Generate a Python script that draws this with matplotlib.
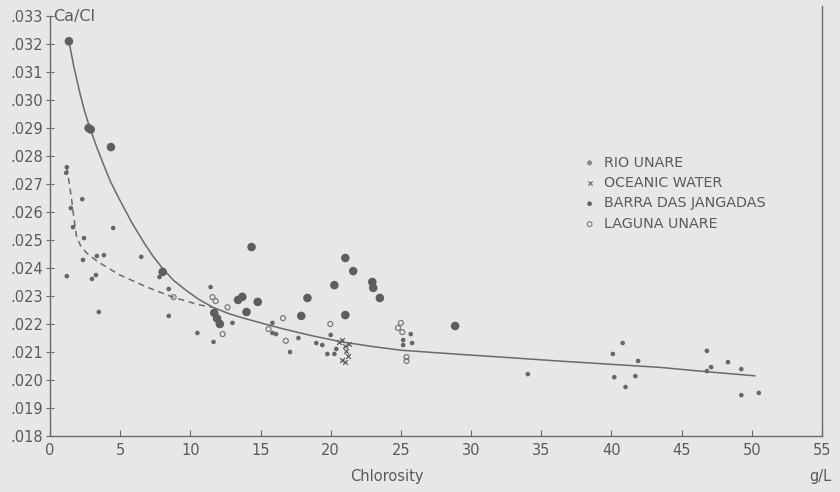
import matplotlib.pyplot as plt
from matplotlib.ticker import FuncFormatter

# Ca/Cl ratio vs chlorosity

# fitted curve for all data (solid)
fit_x = [1.35, 1.7, 2.13, 2.45, 2.84, 3.3, 3.77, 4.3, 4.9, 5.8, 6.7, 7.3, 8.0, 8.8,
         9.7, 10.6, 11.6, 12.8, 14.0, 16.35, 18.5, 20.8, 23.2, 25.1, 29.1, 32.7,
         36.2, 40.0, 43.5, 46.7, 50.2]
fit_y = [.0321, .03119, .03025, .02963, .0290, .02836, .02775, .0271, .0265, .02565,
         .0249, .02445, .0240, .02356, .0232, .02288, .0226, .02236, .02218, .02186,
         .0216, .02136, .02118, .02106, .02092, .0208, .02068, .02056, .02045, .0203,
         .02015]

# fitted curve, low-chlorosity branch (dashed)
dash_x = [1.2, 1.35, 1.5, 1.7, 1.9, 2.2, 2.6, 3.0, 3.55, 4.98, 6.9, 8.75, 10.66, 11.6]
dash_y = [.0276, .0271, .0266, .0258, .0251, .02478, .02454, .02438, .02418, .02375,
          .02332, .02296, .02268, .0226]

# Rio Unare (large dots)
rio_x = [1.35, 2.75, 2.9, 4.34, 8.03, 14.36, 13.7, 13.4, 14.0, 14.8, 11.7, 11.9, 12.1,
         21.04, 21.6, 20.26, 18.34, 17.9, 22.96, 23.03, 23.5, 21.04, 28.86]
rio_y = [.0321, .0290, .02895, .02832, .02386, .02475, .02297, .02286, .02243, .02279,
         .0224, .0222, .0220, .02436, .02389, .02339, .02293, .02229, .0235, .02329,
         .02293, .02232, .02193]

# Oceanic water (x)
oce_x = [20.8, 21.0, 21.1, 21.2, 20.8, 21.0, 21.3, 20.6]
oce_y = [.02143, .0212, .02102, .02084, .02073, .02064, .0213, .02136]

# Barra das Jangadas (small dots)
bar_x = [1.2, 1.15, 2.3, 4.5, 1.49, 1.64, 2.42, 1.2, 2.35, 3.34, 3.84, 2.99, 3.27,
         3.48, 6.5, 7.8, 8.46, 8.46, 10.5, 11.44, 11.65, 13.0, 15.85, 15.85, 16.1,
         17.1, 17.7, 18.97, 19.4, 19.76, 20.0, 20.26, 20.4, 25.7, 25.8, 25.16, 25.16,
         34.04, 40.8, 40.1, 41.9, 40.2, 41.7, 41.0, 46.8, 47.1, 46.8, 48.3, 49.25,
         49.25, 50.5]
bar_y = [.0276, .0274, .02646, .02543, .02614, .02546, .02507, .02371, .02429, .02443,
         .02446, .02361, .02375, .02243, .0244, .02368, .02325, .02229, .02168, .02332,
         .02136, .02204, .02204, .02168, .02164, .021, .0215, .02132, .02125, .02093,
         .02161, .02093, .02111, .02164, .02132, .02143, .02125, .02021, .02132, .02093,
         .02068, .0201, .02014, .01975, .02104, .02046, .02032, .02064, .02039, .01946,
         .01954]

# Laguna Unare (open circles)
lag_x = [8.8, 11.58, 11.8, 12.3, 12.65, 15.57, 16.6, 16.8, 19.97, 25.0, 24.8, 25.1,
         25.4, 25.4]
lag_y = [.02296, .02296, .02282, .02164, .0226, .02182, .02221, .0214, .022, .02204,
         .02186, .02171, .02082, .02068]

ink = '#6a6a6a'
bg = '#e7e7e7'
txt = '#5a5a5a'

fig = plt.figure(figsize=(8.4, 4.92), dpi=100, facecolor=bg)
ax = fig.add_axes([50 / 840, 56 / 492, 772 / 840, 430 / 492], facecolor=bg)

ax.plot(fit_x, fit_y, color=ink, lw=1.1)
ax.plot(dash_x, dash_y, color=ink, lw=1.1, ls=(0, (4, 3)))

ax.scatter(rio_x, rio_y, s=38, color='#5e5e5e', edgecolors='none', zorder=3)
ax.scatter(oce_x, oce_y, s=12, marker='x', color='#5e5e5e', linewidths=0.9, zorder=3)
ax.scatter(bar_x, bar_y, s=11, color='#666666', edgecolors='none', zorder=3)
ax.scatter(lag_x, lag_y, s=13, facecolors='none', edgecolors='#7a7a7a',
           linewidths=0.9, zorder=3)

ax.set_xlim(0, 55)
ax.set_ylim(0.018, 0.03336)
ax.set_xticks(range(0, 56, 5))
ax.set_yticks([0.018 + 0.001 * i for i in range(16)])
ax.yaxis.set_major_formatter(FuncFormatter(lambda v, p: f'{v:.3f}'[1:]))

for s in ['left', 'bottom', 'right']:
    ax.spines[s].set_color(ink)
    ax.spines[s].set_linewidth(1.0)
ax.spines['top'].set_visible(False)
ax.spines['left'].set_bounds(0.018, 0.033)

ax.tick_params(axis='x', direction='in', length=4, color=ink, labelcolor=txt,
               labelsize=10.5, pad=5)
ax.tick_params(axis='y', direction='inout', length=6, color=ink, labelcolor=txt,
               labelsize=10.5, pad=2)

ax.text(0.25, 0.033, 'Ca/Cl', color=txt, fontsize=11.5, va='center', ha='left')
fig.text(387 / 840, 1 - 477 / 492, 'Chlorosity', color=txt, fontsize=10.5,
         ha='center', va='center')
fig.text(820 / 840, 1 - 477 / 492, 'g/L', color=txt, fontsize=10.5,
         ha='center', va='center')

# legend drawn as marker + text rows
leg_labels = ['RIO UNARE', 'OCEANIC WATER', 'BARRA DAS JANGADAS', 'LAGUNA UNARE']
hs = [
    ax.scatter([], [], s=14, color='#8a8a8a', edgecolors='none'),
    ax.scatter([], [], s=10, marker='x', color='#666666', linewidths=0.8),
    ax.scatter([], [], s=11, color='#5e5e5e', edgecolors='none'),
    ax.scatter([], [], s=12, facecolors='none', edgecolors='#7a7a7a', linewidths=0.8),
]
leg = ax.legend(hs, leg_labels, loc='upper left', bbox_to_anchor=(0.673, 0.682),
                frameon=False, fontsize=10.3, labelcolor=txt, handletextpad=0.5,
                labelspacing=0.45, handlelength=1.0)

fig.savefig('out.png', dpi=100, facecolor=bg)
